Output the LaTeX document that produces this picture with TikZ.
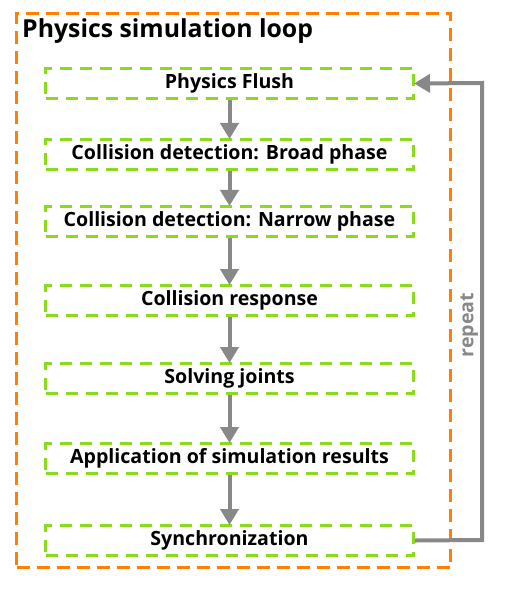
\documentclass[tikz,border=0pt]{standalone}
\usepackage{fontspec}
\setmainfont{Open Sans}
\usetikzlibrary{arrows.meta}
\definecolor{outerc}{RGB}{255,128,0}
\definecolor{innerc}{RGB}{140,218,30}
\definecolor{arrc}{RGB}{136,136,136}
\begin{document}
\begin{tikzpicture}[x=1pt,y=-1pt,
  stepbox/.style={draw=innerc, line width=3pt, dash pattern=on 12pt off 8pt, minimum width=368pt, minimum height=30pt, inner sep=0pt, font=\fontsize{19.6}{22}\selectfont\bfseries, anchor=north west},
  flow/.style={draw=arrc, line width=4pt, -{Triangle[width=18pt,length=16pt]}, shorten >=-1pt},
  every node/.style={text=black}]
\useasboundingbox (0,0) rectangle (519,593);
\node[draw=outerc, line width=3pt, dash pattern=on 13pt off 7pt, minimum width=434pt, minimum height=554pt, inner sep=0pt, anchor=north west] (outer) at (15,12) {};
\node[anchor=west, font=\fontsize{24.8}{28}\selectfont\bfseries, inner sep=0pt] (title) at (22,31) {Physics simulation loop};
\node[stepbox] (s1) at (44,67) {Physics Flush};
\node[stepbox] (s2) at (44,138) {Collision detection: Broad phase};
\node[stepbox] (s3) at (44,205) {Collision detection: Narrow phase};
\node[stepbox] (s4) at (44,284) {Collision response};
\node[stepbox] (s5) at (44,362) {Solving joints};
\node[stepbox] (s6) at (44,442) {Application of simulation results};
\node[stepbox] (s7) at (44,524) {Synchronization};
\foreach \a/\b in {s1/s2,s2/s3,s3/s4,s4/s5,s5/s6,s6/s7}
  \draw[flow] (\a.south) -- (\b.north);
\coordinate (rb) at (482,540);
\coordinate (rt) at (482,83);
\draw[flow] (s7.east) -- (rb) -- node[pos=0.47, sloped, above=2pt, font=\fontsize{19.6}{22}\selectfont\bfseries, text=arrc, inner sep=0pt] (rep) {repeat} (rt) -- (s1.east);
\end{tikzpicture}
\end{document}
